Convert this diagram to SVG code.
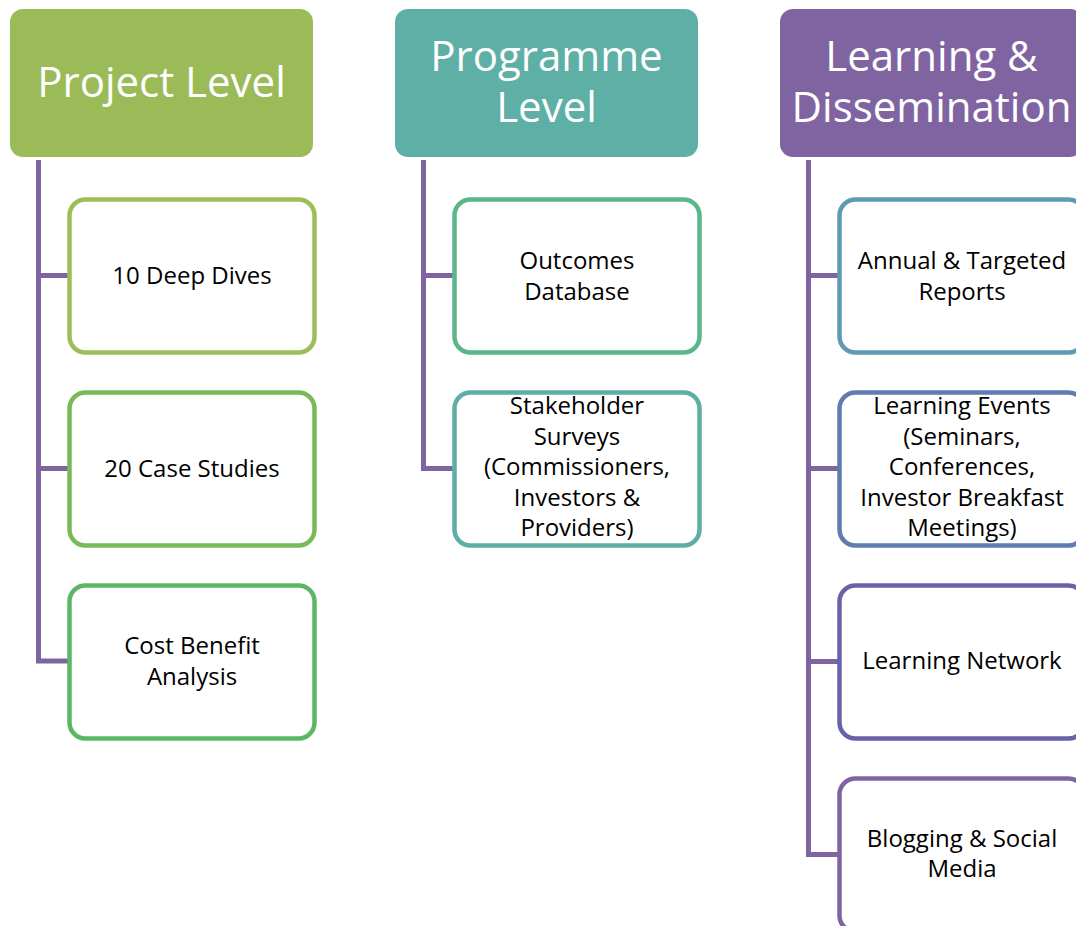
<svg xmlns="http://www.w3.org/2000/svg" width="1076" height="926" viewBox="0 0 1076 926">
  <style>
    .hdr { stroke: none; }
    .hdr-t { font-family: "Open Sans", "Noto Sans", sans-serif; font-size: 42px; fill: #ffffff; text-anchor: middle; }
    .box { fill: #ffffff; stroke-width: 4.5; }
    .box-t { font-family: "Open Sans", "Noto Sans", sans-serif; font-size: 24px; fill: #000000; text-anchor: middle; }
    .conn { fill: none; stroke: #8064A2; stroke-width: 5; stroke-linejoin: miter; }
  </style>
  <rect width="1076" height="926" fill="#ffffff"/>

  <g id="connectors">
    <path class="conn" d="M38.5 160 V661 H69.5 M38.5 275.5 H69.5 M38.5 468.5 H69.5"/>
    <path class="conn" d="M423.5 160 V468.5 H454.5 M423.5 275.5 H454.5"/>
    <path class="conn" d="M808.5 160 V854.5 H839.5 M808.5 275.5 H839.5 M808.5 468.5 H839.5 M808.5 661.5 H839.5"/>
  </g>

  <g id="hdr-project">
    <rect class="hdr" x="10" y="9" width="303" height="148" rx="13" fill="#9BBB59"/>
    <text class="hdr-t" x="161.5" y="97">Project Level</text>
  </g>
  <g id="hdr-programme">
    <rect class="hdr" x="395" y="9" width="303" height="148" rx="13" fill="#5EAFA6"/>
    <text class="hdr-t" x="546.5" y="71">Programme</text>
    <text class="hdr-t" x="546.5" y="121.5">Level</text>
  </g>
  <g id="hdr-learning">
    <rect class="hdr" x="780" y="9" width="303" height="148" rx="13" fill="#8064A2"/>
    <text class="hdr-t" x="931.5" y="71">Learning &amp;</text>
    <text class="hdr-t" x="931.5" y="121.5">Dissemination</text>
  </g>

  <g id="deep-dives">
    <rect class="box" x="69.5" y="199.5" width="245" height="153" rx="16" stroke="#9DBD58"/>
    <text class="box-t" x="192" y="284">10 Deep Dives</text>
  </g>
  <g id="case-studies">
    <rect class="box" x="69.5" y="392.5" width="245" height="153" rx="16" stroke="#78BA5A"/>
    <text class="box-t" x="192" y="477">20 Case Studies</text>
  </g>
  <g id="cost-benefit">
    <rect class="box" x="69.5" y="585.5" width="245" height="153" rx="16" stroke="#5CB764"/>
    <text class="box-t" x="192" y="654">Cost Benefit</text>
    <text class="box-t" x="192" y="685">Analysis</text>
  </g>

  <g id="outcomes-db">
    <rect class="box" x="454.5" y="199.5" width="245" height="153" rx="16" stroke="#5AB78A"/>
    <text class="box-t" x="577" y="269">Outcomes</text>
    <text class="box-t" x="577" y="300">Database</text>
  </g>
  <g id="stakeholder-surveys">
    <rect class="box" x="454.5" y="392.5" width="245" height="153" rx="16" stroke="#5DAEA6"/>
    <text class="box-t" x="577" y="414">Stakeholder</text>
    <text class="box-t" x="577" y="444.5">Surveys</text>
    <text class="box-t" x="577" y="475">(Commissioners,</text>
    <text class="box-t" x="577" y="505.5">Investors &amp;</text>
    <text class="box-t" x="577" y="536">Providers)</text>
  </g>

  <g id="annual-reports">
    <rect class="box" x="839.5" y="199.5" width="245" height="153" rx="16" stroke="#5E9AB1"/>
    <text class="box-t" x="962" y="269">Annual &amp; Targeted</text>
    <text class="box-t" x="962" y="300">Reports</text>
  </g>
  <g id="learning-events">
    <rect class="box" x="839.5" y="392.5" width="245" height="153" rx="16" stroke="#5F7CAF"/>
    <text class="box-t" x="962" y="414">Learning Events</text>
    <text class="box-t" x="962" y="444.5">(Seminars,</text>
    <text class="box-t" x="962" y="475">Conferences,</text>
    <text class="box-t" x="962" y="505.5">Investor Breakfast</text>
    <text class="box-t" x="962" y="536">Meetings)</text>
  </g>
  <g id="learning-network">
    <rect class="box" x="839.5" y="585.5" width="245" height="153" rx="16" stroke="#6862A8"/>
    <text class="box-t" x="962" y="669">Learning Network</text>
  </g>
  <g id="blogging">
    <rect class="box" x="839.5" y="778.5" width="245" height="153" rx="16" stroke="#8064A2"/>
    <text class="box-t" x="962" y="847">Blogging &amp; Social</text>
    <text class="box-t" x="962" y="877">Media</text>
  </g>
</svg>
